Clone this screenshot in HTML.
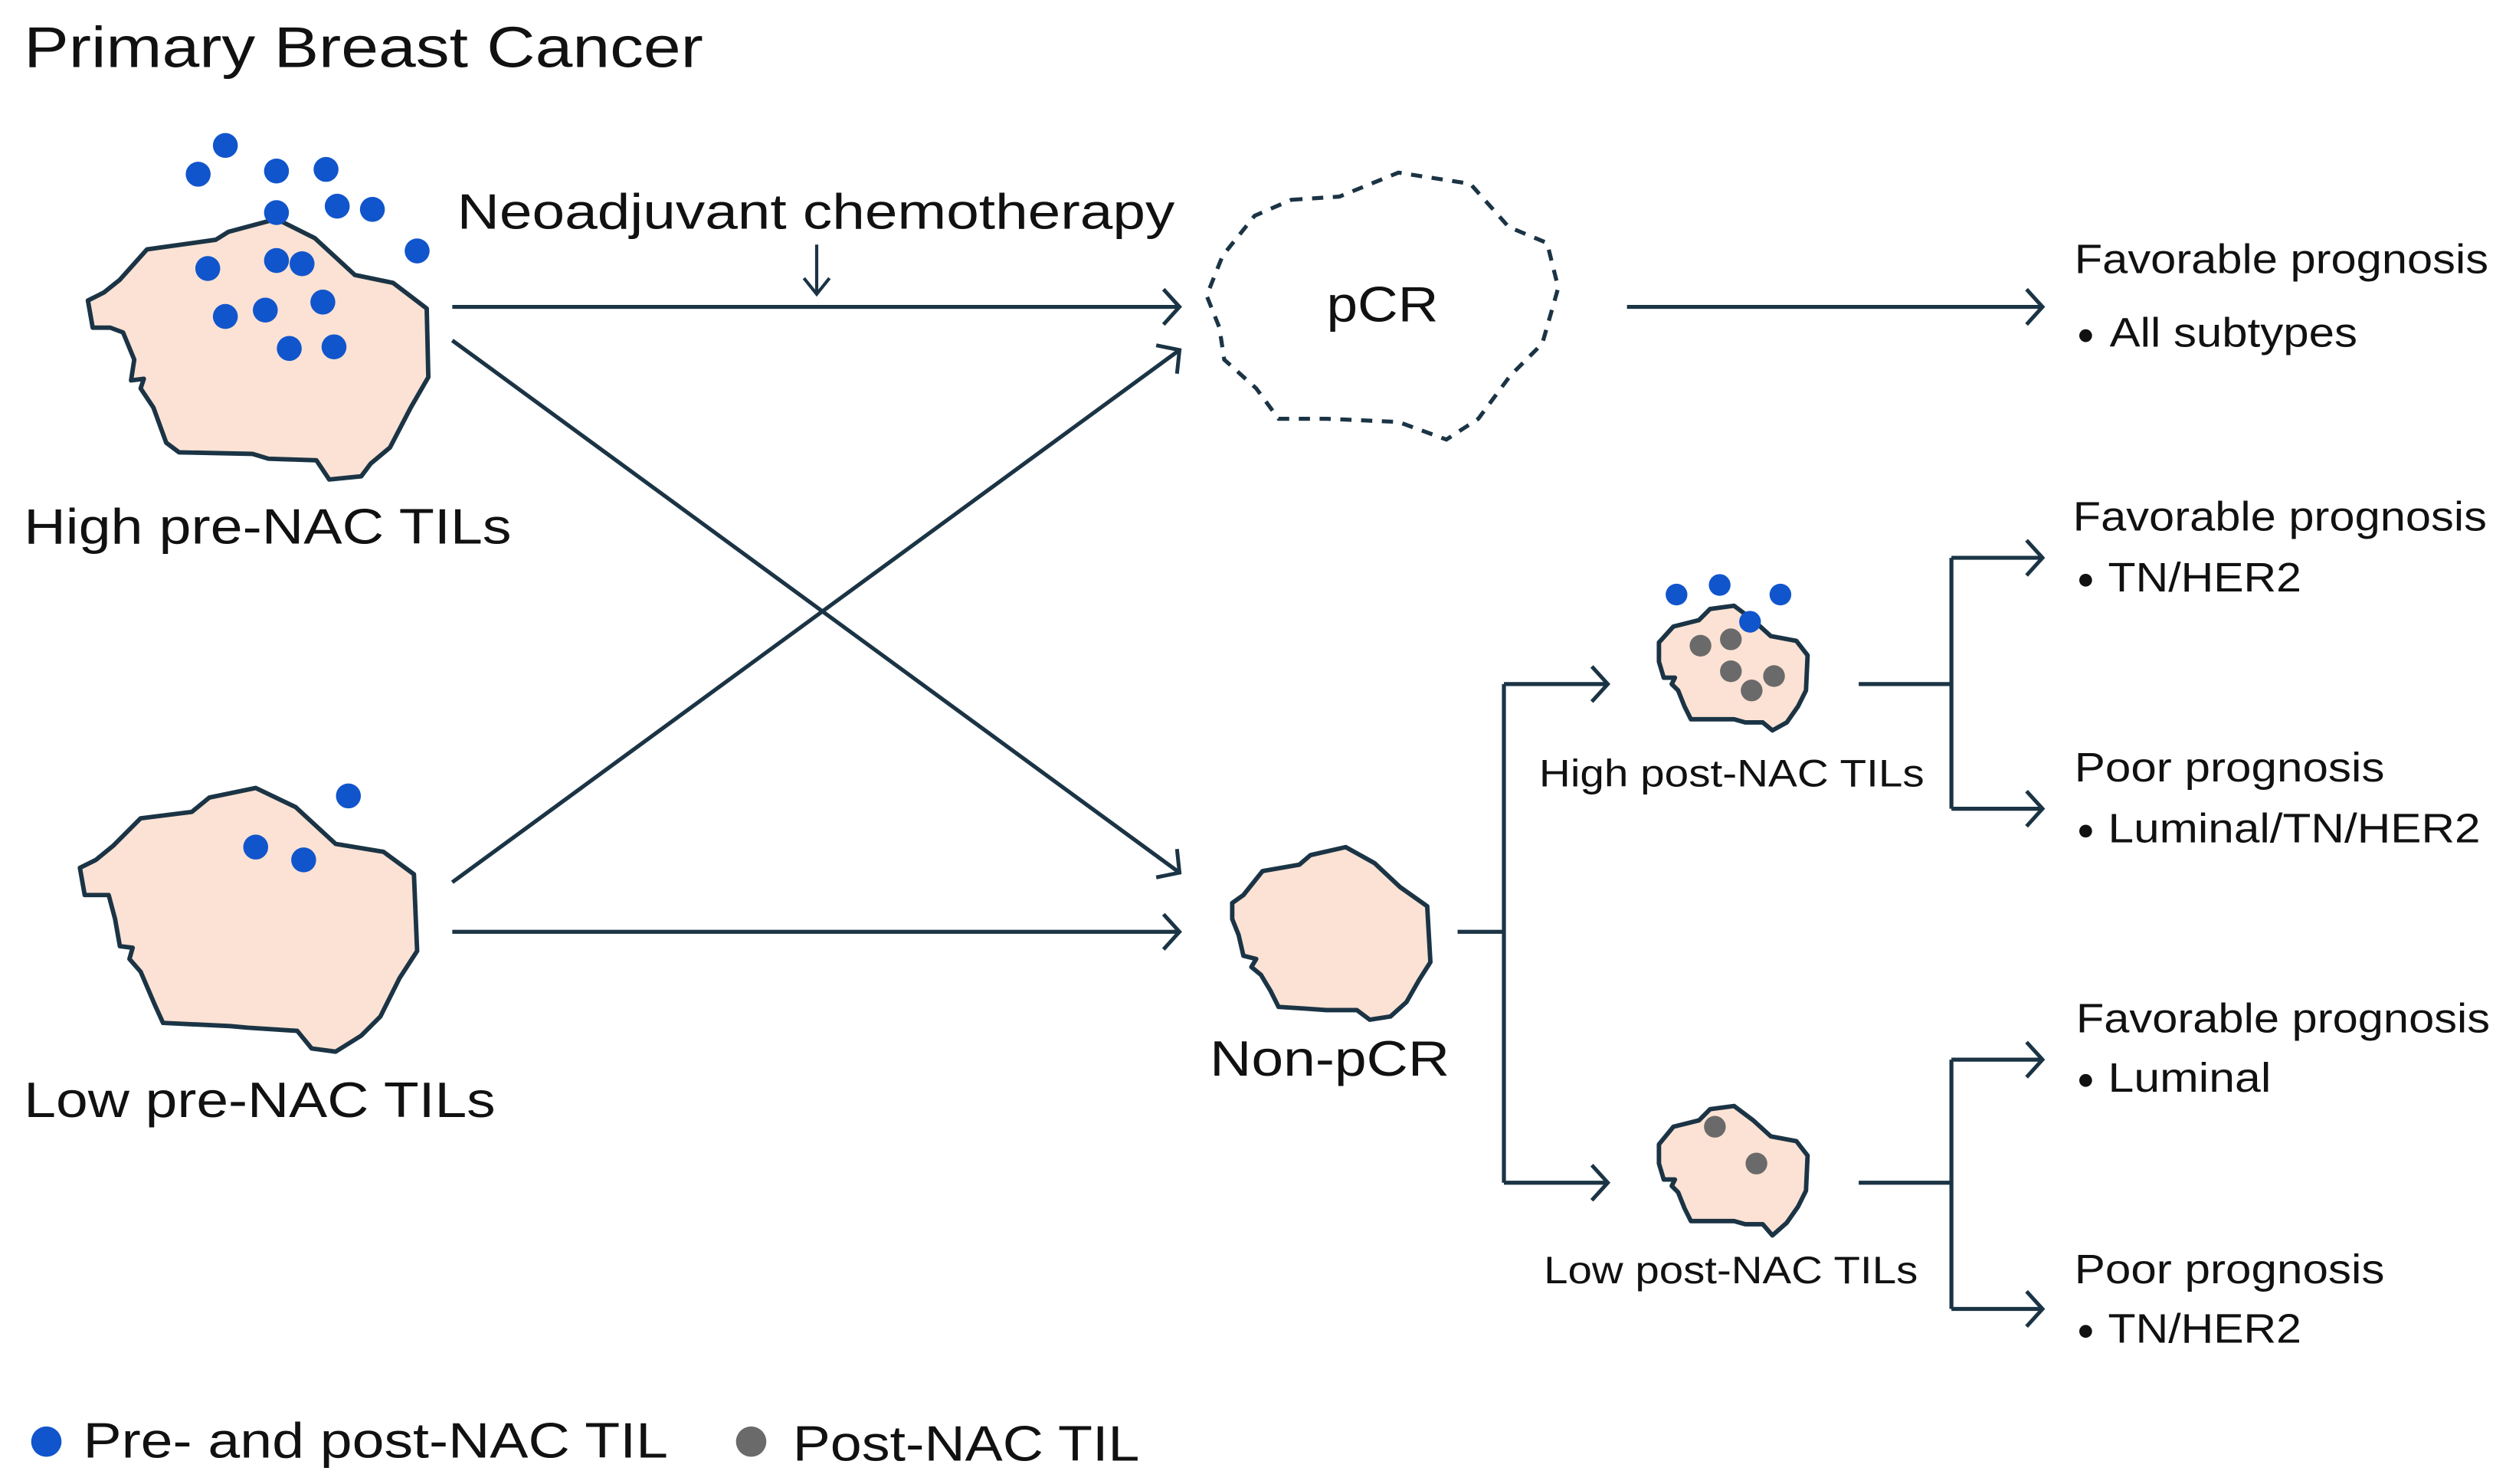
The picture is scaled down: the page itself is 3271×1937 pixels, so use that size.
<!DOCTYPE html>
<html><head><meta charset="utf-8"><style>
html,body{margin:0;padding:0;background:#fff;}
svg{display:block;}
text{font-family:"Liberation Sans",sans-serif;fill:#111;}
</style></head><body>
<svg width="3271" height="1937" viewBox="0 0 1568 928.5" xmlns="http://www.w3.org/2000/svg">
<defs>
<marker id="ah" markerWidth="24" markerHeight="24" refX="13" refY="12" orient="auto" markerUnits="userSpaceOnUse">
<path d="M3,1 L13,12 L3,23" fill="none" stroke="#1b3445" stroke-width="2.4"/>
</marker>
</defs>
<g stroke="#1b3445" stroke-width="2.5" fill="none">
<line x1="283" y1="192" x2="738" y2="192" marker-end="url(#ah)"/>
<line x1="283" y1="213" x2="738" y2="546" marker-end="url(#ah)"/>
<line x1="283" y1="552" x2="738" y2="219" marker-end="url(#ah)"/>
<line x1="283" y1="583" x2="738" y2="583" marker-end="url(#ah)"/>
<line x1="1018" y1="192" x2="1278" y2="192" marker-end="url(#ah)"/>
<line x1="511" y1="153" x2="511" y2="183" stroke-width="2"/>
<path d="M503,174 L511,184 L519,174" stroke-width="2"/>
<path d="M912,583 H941"/>
<path d="M941,428 V740"/>
<line x1="941" y1="428" x2="1006" y2="428" marker-end="url(#ah)"/>
<line x1="941" y1="740" x2="1006" y2="740" marker-end="url(#ah)"/>
<path d="M1163,428 H1221 M1221,349 V506 M1163,740 H1221 M1221,663 V819"/>
<line x1="1221" y1="349" x2="1278" y2="349" marker-end="url(#ah)"/>
<line x1="1221" y1="506" x2="1278" y2="506" marker-end="url(#ah)"/>
<line x1="1221" y1="663" x2="1278" y2="663" marker-end="url(#ah)"/>
<line x1="1221" y1="819" x2="1278" y2="819" marker-end="url(#ah)"/>
</g>
<g fill="#fbe2d4" stroke="#1b3445" stroke-width="2.8" stroke-linejoin="round">
<path d="M92,156 L135,150 L143,145 L173,137 L197,149 L222,172 L246,177 L267,193 L268,236 L257,255 L244,280 L232,290 L226,298 L206,300 L198,288 L168,287 L158,284 L112,283 L104,277 L96,255 L88,243 L90,237 L82,238 L84,225 L77,208 L69,205 L58,205 L55,188 L65,183 L75,175 Z"/>
<path d="M88,512 L120,508 L131,499 L160,493 L185,505 L210,528 L240,533 L259,547 L261,595 L250,612 L238,636 L226,648 L210,658 L195,656 L186,645 L155,643 L144,642 L102,640 L97,629 L88,608 L81,600 L83,593 L75,592 L72,575 L68,560 L62,560 L53,560 L50,543 L60,538 L71,529 Z"/>
<path d="M790,545 L813,541 L820,535 L842,530 L860,540 L876,555 L893,567 L895,602 L888,613 L880,627 L870,636 L857,638 L849,632 L830,632 L816,631 L800,630 L795,620 L789,610 L783,605 L786,600 L778,598 L775,585 L771,575 L771,565 L778,560 Z"/>
<path d="M1047,392 L1063,388 L1070,381 L1085,379 L1097,388 L1108,398 L1124,401 L1131,410 L1130,432 L1125,442 L1118,452 L1109,457 L1103,452 L1092,452 L1085,450 L1058,450 L1054,442 L1050,432 L1046,428 L1048,424 L1041,424 L1038,414 L1038,402 Z"/>
<path d="M1047,705 L1063,701 L1070,694 L1085,692 L1097,701 L1108,711 L1124,714 L1131,723 L1130,745 L1125,755 L1118,765 L1109,773 L1103,766 L1092,766 L1085,764 L1058,764 L1054,756 L1050,746 L1046,742 L1048,738 L1041,738 L1038,728 L1038,716 Z"/>
</g>
<path d="M808,125 L838,123 L875,108 L920,115 L944,142 L968,152 L975,180 L965,215 L945,235 L925,262 L905,275 L875,264 L830,262 L800,262 L786,243 L766,225 L763,205 L755,185 L765,160 L785,135 Z" fill="none" stroke="#1b3445" stroke-width="2.5" stroke-dasharray="7,6"/>
<g fill="#1155cc">
<circle cx="141" cy="91" r="7.8"/><circle cx="124" cy="109" r="7.8"/><circle cx="173" cy="107" r="7.8"/><circle cx="204" cy="106" r="7.8"/>
<circle cx="173" cy="133" r="7.8"/><circle cx="211" cy="129" r="7.8"/><circle cx="233" cy="131" r="7.8"/><circle cx="261" cy="157" r="7.8"/>
<circle cx="130" cy="168" r="7.8"/><circle cx="173" cy="163" r="7.8"/><circle cx="189" cy="165" r="7.8"/><circle cx="141" cy="198" r="7.8"/>
<circle cx="166" cy="194" r="7.8"/><circle cx="202" cy="189" r="7.8"/><circle cx="181" cy="218" r="7.8"/><circle cx="209" cy="217" r="7.8"/>
<circle cx="218" cy="498" r="7.8"/><circle cx="160" cy="530" r="7.8"/><circle cx="190" cy="538" r="7.8"/>
<circle cx="1049" cy="372" r="6.8"/><circle cx="1076" cy="366" r="6.8"/><circle cx="1114" cy="372" r="6.8"/>
<circle cx="29" cy="902" r="9.5"/>
</g>
<g fill="#6a6a6a">
<circle cx="1064" cy="404" r="6.8"/><circle cx="1083" cy="400" r="6.8"/><circle cx="1083" cy="420" r="6.8"/><circle cx="1096" cy="432" r="6.8"/><circle cx="1110" cy="423" r="6.8"/>
<circle cx="1073" cy="705" r="6.8"/><circle cx="1099" cy="728" r="6.8"/>
<circle cx="470" cy="902" r="9.5"/>
</g>
<circle cx="1095" cy="389" r="6.8" fill="#1155cc"/>
<text x="15" y="42" font-size="36" textLength="425" lengthAdjust="spacingAndGlyphs">Primary Breast Cancer</text>
<text x="286" y="143" font-size="31" textLength="449" lengthAdjust="spacingAndGlyphs">Neoadjuvant chemotherapy</text>
<text x="15" y="340" font-size="31" textLength="305" lengthAdjust="spacingAndGlyphs">High pre-NAC TILs</text>
<text x="15" y="699" font-size="31" textLength="295" lengthAdjust="spacingAndGlyphs">Low pre-NAC TILs</text>
<text x="830" y="201" font-size="31" textLength="70" lengthAdjust="spacingAndGlyphs">pCR</text>
<text x="757" y="673" font-size="31" textLength="150" lengthAdjust="spacingAndGlyphs">Non-pCR</text>
<text x="963" y="492" font-size="24" textLength="241" lengthAdjust="spacingAndGlyphs">High post-NAC TILs</text>
<text x="966" y="803" font-size="24" textLength="234" lengthAdjust="spacingAndGlyphs">Low post-NAC TILs</text>
<g font-size="26">
<text x="1298" y="171" textLength="259" lengthAdjust="spacingAndGlyphs">Favorable prognosis</text>
<circle cx="1305" cy="210" r="4" fill="#111"/><text x="1320" y="217" textLength="155" lengthAdjust="spacingAndGlyphs">All subtypes</text>
<text x="1297" y="332" textLength="259" lengthAdjust="spacingAndGlyphs">Favorable prognosis</text>
<circle cx="1305" cy="363" r="4" fill="#111"/><text x="1319" y="370" textLength="121" lengthAdjust="spacingAndGlyphs">TN/HER2</text>
<text x="1298" y="489" textLength="194" lengthAdjust="spacingAndGlyphs">Poor prognosis</text>
<circle cx="1305" cy="520" r="4" fill="#111"/><text x="1319" y="527" textLength="233" lengthAdjust="spacingAndGlyphs">Luminal/TN/HER2</text>
<text x="1299" y="646" textLength="259" lengthAdjust="spacingAndGlyphs">Favorable prognosis</text>
<circle cx="1305" cy="676" r="4" fill="#111"/><text x="1319" y="683" textLength="102" lengthAdjust="spacingAndGlyphs">Luminal</text>
<text x="1298" y="803" textLength="194" lengthAdjust="spacingAndGlyphs">Poor prognosis</text>
<circle cx="1305" cy="833" r="4" fill="#111"/><text x="1319" y="840" textLength="121" lengthAdjust="spacingAndGlyphs">TN/HER2</text>
</g>
<text x="52" y="912" font-size="31" textLength="366" lengthAdjust="spacingAndGlyphs">Pre- and post-NAC TIL</text>
<text x="496" y="914" font-size="31" textLength="217" lengthAdjust="spacingAndGlyphs">Post-NAC TIL</text>
</svg>
</body></html>
